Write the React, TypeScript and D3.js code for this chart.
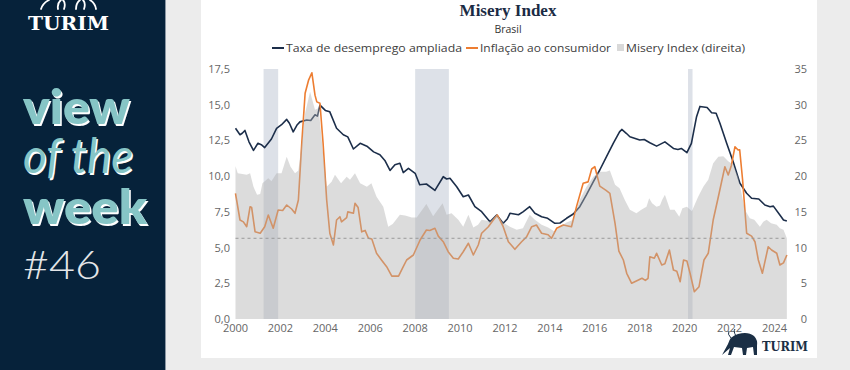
import React, { useEffect, useRef } from 'react';
import * as d3 from 'd3';

// [decimal year, %]
const unemployment: [number, number][] = [
  [2000.0, 13.35], [2000.2, 12.9], [2000.3, 13.0], [2000.42, 13.2], [2000.6, 12.4], [2000.8, 11.8],
  [2001.0, 12.3], [2001.15, 12.2], [2001.3, 12.0], [2001.6, 12.6], [2001.83, 13.35], [2002.05, 13.6],
  [2002.28, 13.97], [2002.4, 13.7], [2002.57, 13.1], [2002.75, 13.6], [2002.87, 13.8], [2003.17, 13.93],
  [2003.35, 13.9], [2003.54, 14.3], [2003.65, 14.2], [2003.76, 14.97], [2004.0, 14.6], [2004.2, 14.5],
  [2004.5, 13.35], [2004.8, 12.9], [2005.0, 12.75], [2005.25, 11.9], [2005.55, 12.3], [2005.85, 12.1],
  [2006.15, 11.7], [2006.43, 11.5], [2006.65, 11.1], [2006.88, 10.4], [2007.1, 10.8], [2007.32, 10.9],
  [2007.47, 10.25], [2007.7, 10.55], [2008.0, 10.2], [2008.2, 9.4], [2008.5, 9.45], [2008.88, 9.0],
  [2009.25, 9.96], [2009.4, 9.8], [2009.55, 9.85], [2009.85, 9.26], [2010.14, 8.56], [2010.37, 8.68],
  [2010.66, 7.86], [2010.96, 7.51], [2011.33, 6.81], [2011.63, 7.28], [2011.92, 6.7], [2012.1, 7.0],
  [2012.22, 7.4], [2012.6, 7.3], [2012.8, 7.5], [2013.1, 7.86], [2013.33, 7.4], [2013.63, 7.16],
  [2013.9, 7.05], [2014.22, 6.7], [2014.45, 6.72], [2014.74, 7.05], [2015.04, 7.35], [2015.33, 7.86],
  [2015.63, 8.7], [2015.93, 9.6], [2016.22, 10.43], [2016.52, 11.36], [2016.82, 12.3], [2017.1, 13.1],
  [2017.2, 13.27], [2017.4, 13.0], [2017.56, 12.76], [2018.0, 12.53], [2018.2, 12.56], [2018.45, 12.34],
  [2018.75, 12.1], [2019.12, 12.4], [2019.5, 11.94], [2019.7, 11.87], [2019.85, 11.94], [2020.1, 11.64],
  [2020.3, 12.3], [2020.53, 14.16], [2020.68, 14.88], [2021.0, 14.8], [2021.2, 14.44], [2021.4, 14.4],
  [2021.57, 13.7], [2021.87, 12.3], [2022.16, 11.0], [2022.46, 9.5], [2022.76, 8.8], [2022.98, 8.45],
  [2023.3, 8.4], [2023.57, 7.98], [2023.8, 7.86], [2023.95, 7.9], [2024.24, 7.28], [2024.4, 6.93],
  [2024.55, 6.86],
];

const inflation: [number, number][] = [
  [2000.0, 8.8], [2000.2, 6.93], [2000.35, 6.8], [2000.5, 6.46], [2000.65, 7.86], [2000.72, 7.8],
  [2000.87, 6.11], [2001.1, 6.0], [2001.3, 6.46], [2001.46, 7.28], [2001.68, 6.35], [2001.9, 7.63],
  [2002.1, 7.6], [2002.28, 7.98], [2002.5, 7.7], [2002.65, 7.4], [2002.8, 8.33], [2002.95, 12.3],
  [2003.1, 15.8], [2003.25, 16.7], [2003.4, 17.24], [2003.54, 15.67], [2003.62, 15.2], [2003.76, 15.1],
  [2003.9, 12.3], [2004.06, 8.33], [2004.2, 6.0], [2004.36, 5.18], [2004.5, 6.93], [2004.65, 7.16],
  [2004.72, 6.8], [2004.95, 7.1], [2005.0, 7.5], [2005.25, 7.4], [2005.32, 8.1], [2005.46, 7.8],
  [2005.62, 6.1], [2005.77, 6.2], [2005.92, 5.65], [2006.07, 5.6], [2006.28, 4.6], [2006.5, 4.13],
  [2006.73, 3.66], [2006.96, 3.0], [2007.26, 3.0], [2007.47, 3.66], [2007.62, 4.13], [2007.92, 4.48],
  [2008.22, 5.53], [2008.5, 6.23], [2008.65, 6.2], [2008.88, 6.35], [2009.03, 5.8], [2009.25, 5.41],
  [2009.47, 4.71], [2009.7, 4.25], [2009.92, 4.2], [2010.14, 4.71], [2010.37, 5.3], [2010.59, 4.48],
  [2010.81, 5.18], [2010.96, 6.0], [2011.26, 6.46], [2011.48, 6.93], [2011.66, 7.28], [2011.92, 6.46],
  [2012.15, 5.41], [2012.44, 4.88], [2012.74, 5.41], [2012.96, 5.75], [2013.19, 6.46], [2013.4, 6.58],
  [2013.63, 6.0], [2013.92, 5.9], [2014.07, 5.65], [2014.3, 6.35], [2014.6, 6.58], [2014.96, 6.46],
  [2015.19, 7.9], [2015.48, 9.5], [2015.7, 9.6], [2015.86, 10.5], [2016.0, 10.66], [2016.22, 9.3],
  [2016.5, 9.0], [2016.67, 8.8], [2016.9, 6.7], [2017.07, 4.75], [2017.27, 4.13], [2017.42, 3.2],
  [2017.64, 2.5], [2017.94, 2.73], [2018.1, 2.85], [2018.25, 2.7], [2018.37, 2.85], [2018.45, 4.36],
  [2018.65, 4.25], [2018.75, 4.6], [2018.98, 3.78], [2019.12, 3.86], [2019.32, 4.83], [2019.5, 3.43],
  [2019.65, 3.35], [2019.8, 2.61], [2019.95, 4.13], [2020.1, 4.06], [2020.24, 3.2], [2020.43, 1.91],
  [2020.64, 2.26], [2020.86, 4.13], [2021.05, 4.6], [2021.27, 6.93], [2021.5, 8.56], [2021.79, 10.66],
  [2021.94, 10.08], [2022.08, 10.75], [2022.24, 12.06], [2022.38, 11.83], [2022.45, 11.85], [2022.58, 9.73],
  [2022.76, 6.0], [2022.98, 5.8], [2023.13, 5.41], [2023.28, 4.13], [2023.46, 3.2], [2023.72, 5.06],
  [2023.87, 4.83], [2024.1, 4.6], [2024.24, 3.78], [2024.4, 3.93], [2024.55, 4.48],
];

// right axis
const misery: [number, number][] = [
  [2000.0, 21.4], [2000.1, 20.4], [2000.5, 20.2], [2000.65, 20.4], [2000.8, 18.5], [2000.96, 17.4],
  [2001.1, 17.5], [2001.2, 19.0], [2001.46, 19.7], [2001.6, 19.3], [2001.83, 20.4], [2002.05, 20.4],
  [2002.28, 22.7], [2002.45, 21.3], [2002.65, 20.4], [2002.8, 20.8], [2002.95, 24.6], [2003.1, 28.8],
  [2003.32, 31.8], [2003.54, 29.3], [2003.7, 29.5], [2003.9, 23.2], [2004.06, 18.5], [2004.28, 19.2],
  [2004.43, 20.2], [2004.7, 19.0], [2004.95, 19.9], [2005.1, 19.5], [2005.32, 20.4], [2005.55, 19.0],
  [2005.85, 18.5], [2006.05, 19.0], [2006.28, 17.1], [2006.58, 15.7], [2006.8, 12.9], [2007.0, 13.3],
  [2007.32, 14.6], [2007.55, 14.5], [2007.85, 14.2], [2008.07, 14.2], [2008.5, 16.1], [2008.8, 14.4],
  [2009.22, 16.2], [2009.4, 14.6], [2009.62, 14.8], [2009.92, 13.9], [2010.14, 12.9], [2010.37, 14.6],
  [2010.59, 12.8], [2010.8, 13.2], [2010.96, 13.9], [2011.33, 13.7], [2011.63, 14.6], [2011.92, 13.5],
  [2012.22, 12.9], [2012.52, 12.5], [2012.8, 12.7], [2013.1, 14.6], [2013.33, 13.9], [2013.63, 13.2],
  [2013.92, 12.8], [2014.22, 12.2], [2014.45, 12.9], [2014.74, 13.5], [2015.04, 13.9], [2015.33, 16.7],
  [2015.63, 18.5], [2015.93, 19.9], [2016.22, 20.6], [2016.5, 20.6], [2016.67, 20.8], [2016.9, 18.8],
  [2017.1, 18.3], [2017.33, 16.7], [2017.56, 15.3], [2017.85, 14.8], [2018.07, 15.3], [2018.3, 15.7],
  [2018.42, 16.9], [2018.55, 16.2], [2018.75, 15.7], [2018.9, 15.9], [2019.0, 16.7], [2019.12, 17.4],
  [2019.35, 15.3], [2019.55, 15.3], [2019.76, 14.3], [2019.9, 15.5], [2020.1, 15.7], [2020.32, 15.1],
  [2020.6, 17.1], [2020.83, 18.5], [2021.05, 19.5], [2021.27, 21.8], [2021.5, 22.7], [2021.72, 22.8],
  [2021.94, 22.1], [2022.16, 21.6], [2022.38, 19.9], [2022.53, 17.6], [2022.68, 15.3], [2022.9, 14.1],
  [2023.1, 13.9], [2023.35, 12.9], [2023.5, 13.6], [2023.65, 13.9], [2023.85, 13.4], [2024.1, 13.2],
  [2024.24, 12.7], [2024.4, 12.5], [2024.55, 11.3],
];

const recessions: [number, number][] = [[2001.25, 2001.9], [2008.0, 2009.5], [2020.15, 2020.35]];
const miseryAverage = 11.3;

const xTicks = d3.range(2000, 2025, 2);
const leftTicks = [0, 2.5, 5, 7.5, 10, 12.5, 15, 17.5];
const rightTicks = [0, 5, 10, 15, 20, 25, 30, 35];
const legendItems = ['Taxa de desemprego ampliada', 'Inflação ao consumidor', 'Misery Index (direita)'];

const NAVY = '#1c2e4a';
const ORANGE = '#ed7d31';
const SANS = "'Open Sans', 'DejaVu Sans', sans-serif";

const App = () => {
  const svgRef = useRef<SVGSVGElement>(null);

  useEffect(() => {
    const svg = d3.select(svgRef.current);
    svg.selectAll('*').remove();

    const width = 850;
    const height = 370;

    // backgrounds
    svg.append('rect').attr('width', width).attr('height', height).attr('fill', '#ececec');
    svg.append('rect').attr('x', 201).attr('y', 0).attr('width', 616).attr('height', 358).attr('fill', '#fff');
    svg.append('rect').attr('width', 165).attr('height', height).attr('fill', '#06223a');
    svg.append('line').attr('x1', 165.5).attr('x2', 165.5).attr('y1', 0).attr('y2', height)
      .attr('stroke', '#8a96a3').attr('stroke-width', 1);

    // left panel
    const side = svg.append('g');
    const horns = ['M41,9 Q43,3 49,0', 'M58,9 Q57,3 61,0', 'M64,9 Q66,3 63,0', 'M76,9 Q76,3 80,0', 'M84,9 Q86,3 83,0', 'M96,9 Q95,3 90,0'];
    side.selectAll('path.horn').data(horns).enter().append('path')
      .attr('d', d => d).attr('fill', 'none').attr('stroke', '#fff').attr('stroke-width', 1.8)
      .attr('stroke-linecap', 'round');
    side.append('text').attr('x', 28).attr('y', 30).text('TURIM')
      .attr('font-family', "'DejaVu Serif', serif").attr('font-weight', 700).attr('font-size', 19)
      .attr('textLength', 81).attr('lengthAdjust', 'spacingAndGlyphs').attr('fill', '#fff');

    const words = [
      { t: 'view', y: 124, w: 107, style: 'normal', weight: 800 },
      { t: 'of the', y: 173, w: 110, style: 'italic', weight: 400 },
      { t: 'week', y: 224, w: 124, style: 'normal', weight: 800 },
    ];
    words.forEach(wd => {
      [{ dx: 1.5, c: '#ffffff' }, { dx: 0, c: '#86c5c6' }].forEach(layer => {
        side.append('text').attr('x', 23 + layer.dx).attr('y', wd.y + layer.dx).text(wd.t)
          .attr('font-family', "Lato, 'Open Sans', sans-serif").attr('font-size', 48)
          .attr('font-weight', wd.weight).attr('font-style', wd.style)
          .attr('textLength', wd.w).attr('lengthAdjust', 'spacingAndGlyphs').attr('fill', layer.c);
      });
    });
    side.append('text').attr('x', 23).attr('y', 279).text('#46')
      .attr('font-family', "Lato, sans-serif").attr('font-weight', 300).attr('font-size', 40)
      .attr('textLength', 78).attr('lengthAdjust', 'spacingAndGlyphs').attr('fill', '#e4e6e8');

    // scales
    const x = d3.scaleLinear().domain([2000, 2024]).range([235.5, 774.5]);
    const yL = d3.scaleLinear().domain([0, 17.5]).range([319, 69]);
    const yR = d3.scaleLinear().domain([0, 35]).range([319, 69]);
    const xEnd = x(2024.55);

    // recession bands
    svg.append('g').selectAll('rect').data(recessions).enter().append('rect')
      .attr('x', d => x(d[0])).attr('width', d => x(d[1]) - x(d[0]))
      .attr('y', yL(17.5)).attr('height', yL(0) - yL(17.5)).attr('fill', '#dde1e8');

    const line = d3.line<[number, number]>().x(d => x(d[0])).y(d => yL(d[1]));

    svg.append('path').datum(unemployment).attr('d', line).attr('fill', 'none')
      .attr('stroke', NAVY).attr('stroke-width', 1.6).attr('stroke-linejoin', 'round');
    svg.append('path').datum(inflation).attr('d', line).attr('fill', 'none')
      .attr('stroke', ORANGE).attr('stroke-width', 1.6).attr('stroke-linejoin', 'round');

    // misery area (semi transparent, over lines)
    const area = d3.area<[number, number]>().x(d => x(d[0])).y0(yR(0)).y1(d => yR(d[1]));
    svg.append('path').datum(misery).attr('d', area).attr('fill', '#afafaf').attr('fill-opacity', 0.44);

    // average dashed line
    svg.append('line').attr('x1', x(2000)).attr('x2', xEnd)
      .attr('y1', yR(miseryAverage)).attr('y2', yR(miseryAverage))
      .attr('stroke', '#9a9a9a').attr('stroke-width', 1).attr('stroke-dasharray', '3,3');

    // axes labels
    const fmt = (v: number) => d3.format('.1f')(v).replace('.', ',');
    svg.append('g').selectAll('text').data(leftTicks).enter().append('text')
      .attr('x', 230).attr('y', d => yL(d) + 4).attr('text-anchor', 'end').text(fmt)
      .attr('font-family', SANS).attr('font-size', 11).attr('fill', '#666');
    svg.append('g').selectAll('text').data(rightTicks).enter().append('text')
      .attr('x', 807).attr('y', d => yR(d) + 4).attr('text-anchor', 'end').text(d => d)
      .attr('font-family', SANS).attr('font-size', 11).attr('fill', '#666');
    svg.append('g').selectAll('text').data(xTicks).enter().append('text')
      .attr('x', d => x(d)).attr('y', 332).attr('text-anchor', 'middle').text(d => d)
      .attr('font-family', SANS).attr('font-size', 11).attr('fill', '#666');

    // title
    svg.append('text').attr('x', 508).attr('y', 16).attr('text-anchor', 'middle').text('Misery Index')
      .attr('font-family', "'Liberation Serif', serif").attr('font-weight', 700).attr('font-size', 17)
      .attr('fill', '#1b2b44');
    svg.append('text').attr('x', 508).attr('y', 33).attr('text-anchor', 'middle').text('Brasil')
      .attr('font-family', SANS).attr('font-size', 10.5).attr('fill', '#333');

    // legend
    const legendX = [272, 466, 617];
    const legendW = [190, 145, 128];
    const lg = svg.append('g').attr('font-family', SANS).attr('font-size', 11).attr('fill', '#404040');
    legendItems.forEach((label, i) => {
      const lx = legendX[i];
      if (i < 2) {
        lg.append('line').attr('x1', lx).attr('x2', lx + 12).attr('y1', 48).attr('y2', 48)
          .attr('stroke', i === 0 ? NAVY : ORANGE).attr('stroke-width', 2);
      } else {
        lg.append('rect').attr('x', lx).attr('y', 44).attr('width', 7).attr('height', 7).attr('fill', '#d9d9d9');
      }
      lg.append('text').attr('x', lx + (i < 2 ? 14 : 9)).attr('y', 52).text(label)
        .attr('textLength', legendW[i] - (i < 2 ? 14 : 9)).attr('lengthAdjust', 'spacingAndGlyphs');
    });

    // bottom-right logo
    const logo = svg.append('g').attr('fill', '#1b2f45');
    logo.append('path')
      .attr('d', 'M722,355 L728,344 Q730,336 738,334 Q748,331 754,336 Q758,340 757,346 L757,355 L754,355 L753,347 L747,348 L746,355 L743,355 L742,348 L734,347 L731,355 L728,355 L730,348 Z');
    logo.append('path').attr('d', 'M731,338 Q727,334 729,331 M736,336 Q733,331 735,329')
      .attr('fill', 'none').attr('stroke', '#1b2f45').attr('stroke-width', 1);
    logo.append('text').attr('x', 762).attr('y', 351).text('TURIM')
      .attr('font-family', "'DejaVu Serif', serif").attr('font-weight', 700).attr('font-size', 12)
      .attr('textLength', 46).attr('lengthAdjust', 'spacingAndGlyphs');
  }, []);

  return (
    <svg ref={svgRef} width={850} height={370} viewBox="0 0 850 370"
      style={{ position: 'absolute', left: 0, top: 0 }} />
  );
};

export default App;
